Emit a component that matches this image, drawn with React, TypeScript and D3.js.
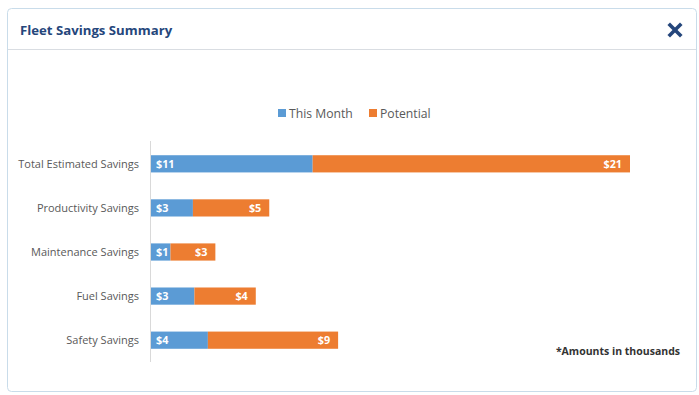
import React from 'react';
import * as d3 from 'd3';

const categories = ['Total Estimated Savings', 'Productivity Savings', 'Maintenance Savings', 'Fuel Savings', 'Safety Savings'];
const thisMonth = [10.8, 2.8, 1.3, 2.9, 3.8];
const potential = [21.2, 5.1, 3.0, 4.1, 8.7];
const seriesNames = ['This Month', 'Potential'];
const colors = ['#5b9bd5', '#ed7d31'];

const W = 699;
const H = 395;
const font = "'Open Sans', sans-serif";

const App = () => {
  const x = d3.scaleLinear().domain([0, 32]).range([151, 630]);
  const y = d3.scaleBand().domain(categories).range([142, 362]).paddingInner(0.61).paddingOuter(0.3);

  const rows = categories.map((c, i) => ({ c, a: thisMonth[i], b: potential[i] }));

  return (
    <svg width={W} height={H} style={{ position: 'absolute', left: 0, top: 0 }} fontFamily={font}>
      <rect x={0} y={0} width={W} height={H} fill="#fff" />
      {/* panel */}
      <rect x={7.5} y={8.5} width={689} height={383} rx={4} fill="#fff" stroke="#c9dcea" />
      <line x1={8} x2={696} y1={49.5} y2={49.5} stroke="#d9dde2" />
      <text x={20} y={35} fontSize={13.2} fontWeight="bold" fill="#25467b">Fleet Savings Summary</text>
      {/* close icon */}
      <g transform="translate(675,30)" stroke="#25467b" strokeWidth={3.6} strokeLinecap="square">
        <line x1={-5} y1={-5} x2={5} y2={5} />
        <line x1={-5} y1={5} x2={5} y2={-5} />
      </g>

      {/* legend */}
      {seriesNames.map((s, i) => {
        const lx = i === 0 ? 278 : 369;
        return (
          <g key={s}>
            <rect x={lx} y={109} width={8} height={8} fill={colors[i]} />
            <text x={lx + 11} y={118} fontSize={12.2} fill="#595959">{s}</text>
          </g>
        );
      })}

      {/* axis */}
      <line x1={150.5} x2={150.5} y1={141} y2={362} stroke="#d9d9d9" />

      {rows.map((r) => {
        const y0 = y(r.c) as number;
        const bh = y.bandwidth();
        const cy = y0 + bh / 2;
        return (
          <g key={r.c}>
            <text x={139} y={cy + 4} textAnchor="end" fontSize={11} fill="#595959">{r.c}</text>
            <rect x={x(0)} y={y0} width={x(r.a) - x(0)} height={bh} fill={colors[0]} />
            <rect x={x(r.a)} y={y0} width={x(r.a + r.b) - x(r.a)} height={bh} fill={colors[1]} />
            <text x={x(0) + 5} y={cy + 4} fontSize={10.8} fontWeight="bold" fill="#fff">{'$' + Math.round(r.a)}</text>
            <text x={x(r.a + r.b) - 8} y={cy + 4} textAnchor="end" fontSize={10.8} fontWeight="bold" fill="#fff">{'$' + Math.round(r.b)}</text>
          </g>
        );
      })}

      <text x={680} y={355} textAnchor="end" fontSize={10.5} fontWeight="bold" fill="#333">*Amounts in thousands</text>
    </svg>
  );
};

export default App;
